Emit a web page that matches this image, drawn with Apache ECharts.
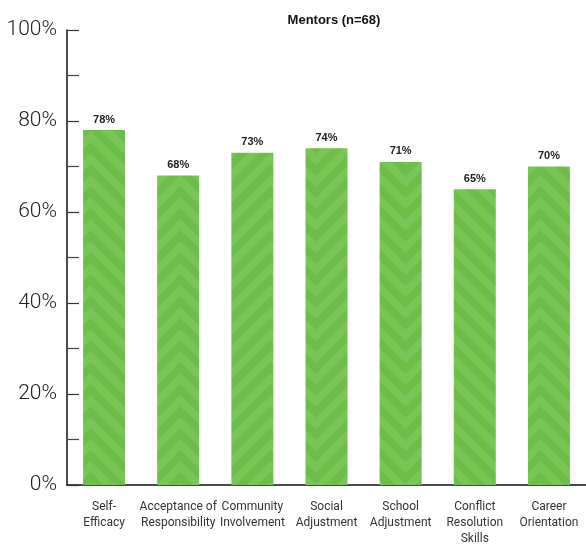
<!DOCTYPE html>
<html>
<head>
<meta charset="utf-8">
<script src="https://cdn.jsdelivr.net/npm/echarts@6/dist/echarts.min.js"></script>
<style>
  html, body { margin: 0; padding: 0; background: #fff; }
  #chart { width: 586px; height: 544px; }
</style>
</head>
<body>
<div id="chart"></div>
<script>
// Share of mentors reporting growth, by outcome area
const chartTitle = 'Mentors (n=68)';
const categories = [
  'Self-\nEfficacy',
  'Acceptance of\nResponsibility',
  'Community\nInvolvement',
  'Social\nAdjustment',
  'School\nAdjustment',
  'Conflict\nResolution\nSkills',
  'Career\nOrientation'
];
const values = [78, 68, 73, 74, 71, 65, 70];

// Chevron fill used for the bars
function chevronTile() {
  const w = 90, h = 22;
  const c = document.createElement('canvas');
  c.width = w; c.height = h;
  const ctx = c.getContext('2d');
  const img = ctx.createImageData(w, h);
  for (let y = 0; y < h; y++) {
    for (let x = 0; x < w; x++) {
      const v = ((y + Math.abs(x - w / 2)) % h + h) % h;
      const light = v < h / 2;
      const i = (y * w + x) * 4;
      img.data[i] = light ? 122 : 108;
      img.data[i + 1] = light ? 197 : 190;
      img.data[i + 2] = light ? 88 : 72;
      img.data[i + 3] = 255;
    }
  }
  ctx.putImageData(img, 0, 0);
  return c;
}

const chart = echarts.init(document.getElementById('chart'), null, { renderer: 'canvas' });
chart.setOption({
  animation: false,
  title: {
    text: chartTitle,
    left: 329, top: 9, textAlign: 'center',
    textStyle: { fontFamily: 'Liberation Sans Narrow, Liberation Sans, Arial', fontWeight: 'bold', fontSize: 13, color: '#111' }
  },
  grid: { left: 67, right: 0, top: 30, bottom: 59, containLabel: false, outerBoundsMode: 'none' },
  xAxis: {
    type: 'category',
    data: categories,
    axisLine: { lineStyle: { color: '#111', width: 1.5 } },
    axisTick: { show: false },
    axisLabel: {
      interval: 0, margin: 14, lineHeight: 16,
      fontFamily: 'Roboto, Liberation Sans', fontSize: 12, color: '#333'
    }
  },
  yAxis: {
    type: 'value', min: 0, max: 100, interval: 20,
    axisLine: { show: true, lineStyle: { color: '#111', width: 1.5 } },
    axisTick: { show: true, inside: true, length: 12, lineStyle: { color: '#333', width: 1.2 } },
    minorTick: { show: true, splitNumber: 2, length: 12, lineStyle: { color: '#444', width: 1.2 } },
    splitLine: { show: false },
    axisLabel: {
      margin: 10, formatter: '{value}%',
      fontFamily: 'Roboto, Liberation Sans', fontWeight: 300, fontSize: 21, color: '#222',
      padding: [4, 0, 0, 0]
    }
  },
  series: [{
    type: 'bar',
    data: values,
    barWidth: 42,
    itemStyle: { color: { image: chevronTile(), repeat: 'repeat' } },
    label: {
      show: true, position: 'top', distance: 5,
      formatter: '{c}%',
      fontFamily: 'Liberation Sans, Arial', fontWeight: 'bold', fontSize: 11, color: '#222'
    }
  }]
});
</script>
</body>
</html>
